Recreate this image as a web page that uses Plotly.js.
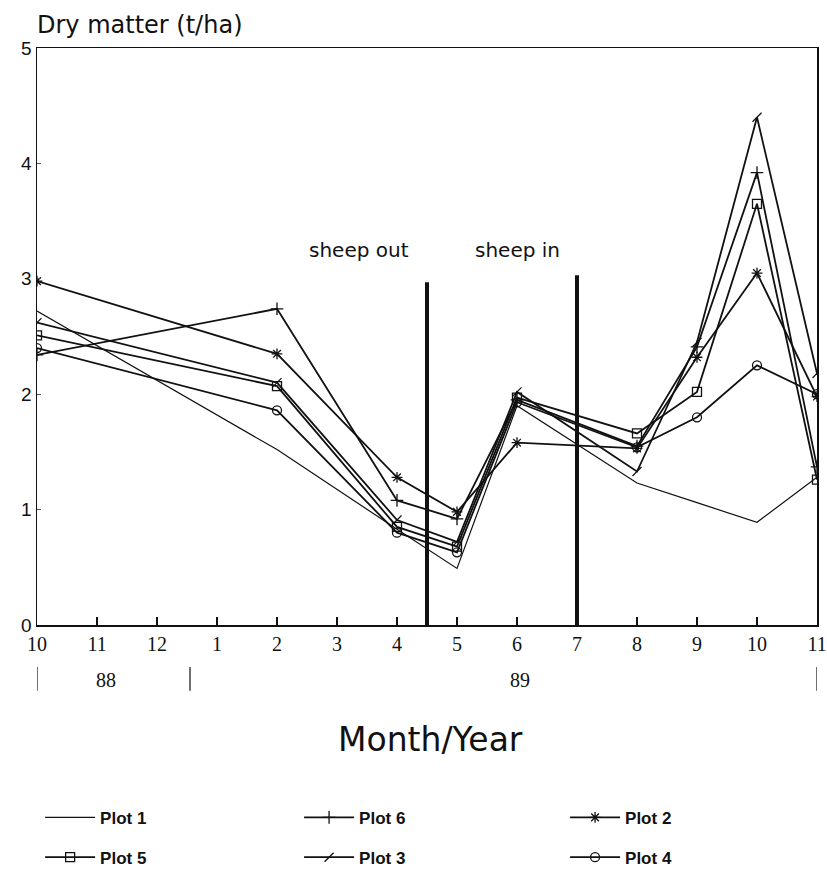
<!DOCTYPE html>
<html>
<head>
<meta charset="utf-8">
<script src="https://cdn.plot.ly/plotly-3.0.1.min.js"></script>
<style>html,body{margin:0;padding:0;background:#fff;}#chart{width:827px;height:872px;}</style>
</head>
<body>
<div id="chart"></div>
<script>
// month index: 0 = Oct 88 ... 13 = Nov 89
const monthLabels = ["10","11","12","1","2","3","4","5","6","7","8","9","10","11"];
const sampleMonths = [0, 4, 6, 7, 8, 10, 11, 12, 13];
// year separators (month index) and year labels
const yearBreaks = [0, 2.55, 13];
const yearLabels = ["88", "89"];
const yearLabelPos = [1.15, 8.05];

const plot1 = [2.72, 1.52, 0.83, 0.49, 1.90, 1.23, 1.06, 0.89, 1.28];
const plot2 = [2.98, 2.35, 1.28, 0.98, 1.58, 1.53, 2.32, 3.05, 1.98];
const plot3 = [2.62, 2.10, 0.91, 0.72, 2.02, 1.33, 2.45, 4.40, 2.18];
const plot4 = [2.40, 1.86, 0.80, 0.63, 1.93, 1.54, 1.80, 2.25, 2.00];
const plot5 = [2.51, 2.07, 0.85, 0.68, 1.97, 1.66, 2.02, 3.65, 1.26];
const plot6 = [2.34, 2.74, 1.08, 0.92, 1.95, 1.55, 2.41, 3.92, 1.37];

// sheep events: [month index, bar height]
const sheepOut = [6.5, 2.97];
const sheepIn = [9, 3.03];

function tr(name, y, symbol, width, legend) {
  return {
    type: 'scatter', mode: symbol ? 'lines+markers' : 'lines', name: name,
    x: sampleMonths, y: y, legend: legend,
    line: {color: '#111', width: width},
    marker: {symbol: symbol || 'circle', size: 9, color: '#111', line: {color: '#111', width: 1.3}}
  };
}

const data = [
  tr('Plot 1', plot1, null, 1.2, 'legend'),
  tr('Plot 6', plot6, 'cross-thin-open', 1.8, 'legend2'),
  tr('Plot 2', plot2, 'asterisk-open', 1.8, 'legend3'),
  tr('Plot 5', plot5, 'square-open', 1.8, 'legend4'),
  tr('Plot 3', plot3, 'line-ne-open', 1.8, 'legend5'),
  tr('Plot 4', plot4, 'circle-open', 1.8, 'legend6')
];

const serif = 'Liberation Serif, DejaVu Serif, serif';
const geo = 'DejaVu Sans, sans-serif';
const legFont = {family: 'Liberation Sans Narrow, Liberation Sans, sans-serif', size: 17, color: '#111', weight: 'bold'};
function leg(x, y) {
  return {orientation: 'h', x: x, y: y, xanchor: 'left', yanchor: 'top', itemwidth: 50,
    font: legFont, bgcolor: 'rgba(0,0,0,0)'};
}
const row1 = -0.303, row2 = -0.372;
const col1 = 0.004, col2 = 0.336, col3 = 0.677;

const shapes = [
  {type: 'line', xref: 'x', yref: 'y', x0: sheepOut[0], x1: sheepOut[0], y0: 0, y1: sheepOut[1], line: {color: '#111', width: 4}},
  {type: 'line', xref: 'x', yref: 'y', x0: sheepIn[0], x1: sheepIn[0], y0: 0, y1: sheepIn[1], line: {color: '#111', width: 4}}
];
yearBreaks.forEach(b => shapes.push({type: 'line', xref: 'x', yref: 'paper', x0: b, x1: b, y0: -0.073, y1: -0.114, line: {color: '#222', width: 1.3}}));

const annotations = [
  {text: 'Dry matter (t/ha)', xref: 'paper', yref: 'paper', x: -0.003, y: 1.0, xanchor: 'left', yanchor: 'bottom', yshift: 7, showarrow: false, font: {family: geo, size: 24, color: '#111'}},
  {text: 'sheep out', xref: 'x', yref: 'y', x: 5.36, y: 3.25, showarrow: false, font: {family: geo, size: 20, color: '#111'}},
  {text: 'sheep in', xref: 'x', yref: 'y', x: 8.0, y: 3.25, showarrow: false, font: {family: geo, size: 20, color: '#111'}},
  {text: 'Month/Year', xref: 'x', yref: 'paper', x: 6.55, y: -0.199, yanchor: 'middle', showarrow: false, font: {family: geo, size: 33, color: '#111'}}
];
yearLabels.forEach((t, i) => annotations.push({text: t, xref: 'x', yref: 'paper', x: yearLabelPos[i], y: -0.095, yanchor: 'middle', showarrow: false, font: {family: serif, size: 20, color: '#111'}}));

const layout = {
  width: 827, height: 872,
  margin: {l: 37, r: 10, t: 48, b: 247, autoexpand: false},
  paper_bgcolor: '#fff', plot_bgcolor: '#fff',
  showlegend: true,
  xaxis: {
    range: [0, 13], tickvals: monthLabels.map((_, i) => i), ticktext: monthLabels,
    showgrid: false, zeroline: false, showline: true, mirror: true, linecolor: '#111', linewidth: 1.5,
    ticks: 'inside', ticklen: 8, tickcolor: '#111', tickwidth: 1.2,
    tickfont: {family: serif, size: 20, color: '#111'}
  },
  yaxis: {
    range: [0, 5], tickvals: [0,1,2,3,4,5],
    showgrid: false, zeroline: false, showline: true, mirror: true, linecolor: '#111', linewidth: 1.5,
    ticks: 'inside', ticklen: 4, tickcolor: '#555',
    tickfont: {family: 'Liberation Sans, Arial, sans-serif', size: 19, color: '#111'}
  },
  shapes: shapes,
  annotations: annotations,
  legend: leg(col1, row1),
  legend2: leg(col2, row1),
  legend3: leg(col3, row1),
  legend4: leg(col1, row2),
  legend5: leg(col2, row2),
  legend6: leg(col3, row2)
};

Plotly.newPlot('chart', data, layout, {displayModeBar: false, staticPlot: true});
</script>
</body>
</html>
